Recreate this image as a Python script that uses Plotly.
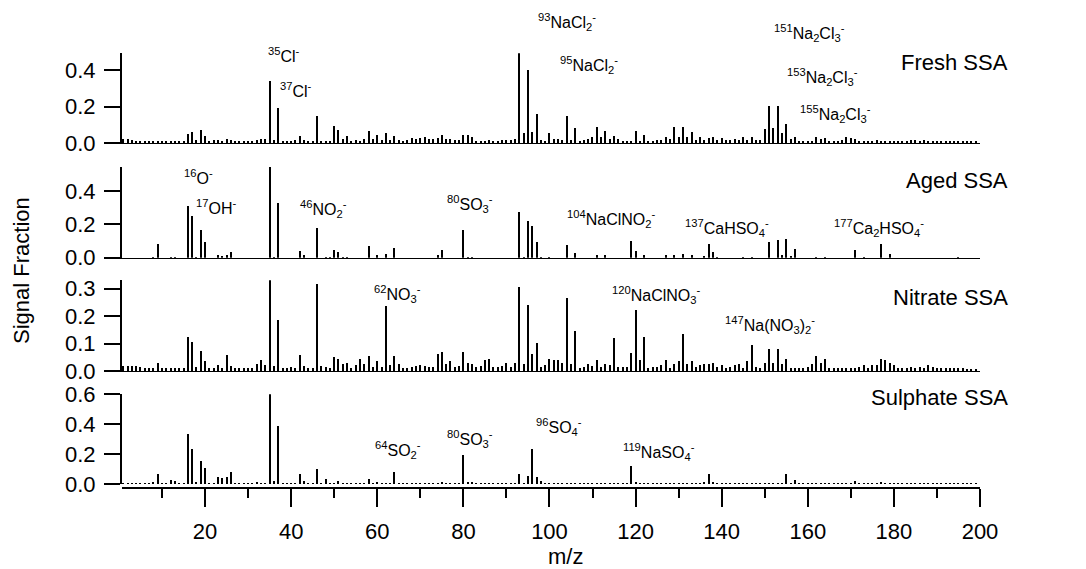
import plotly.graph_objects as go

mz = list(range(1, 200))

fresh = [
    0.020, 0.022, 0.018, 0.012, 0.012, 0.010, 0.012, 0.010, 0.012, 0.010,
    0.010, 0.012, 0.010, 0.012, 0.012, 0.051, 0.058, 0.015, 0.069, 0.036,
    0.012, 0.014, 0.016, 0.012, 0.022, 0.014, 0.010, 0.010, 0.012, 0.010,
    0.012, 0.016, 0.020, 0.022, 0.336, 0.018, 0.190, 0.012, 0.010, 0.012,
    0.014, 0.036, 0.016, 0.010, 0.010, 0.149, 0.012, 0.010, 0.012, 0.091,
    0.073, 0.020, 0.040, 0.012, 0.016, 0.012, 0.020, 0.067, 0.022, 0.045,
    0.018, 0.055, 0.016, 0.036, 0.014, 0.012, 0.014, 0.026, 0.022, 0.026,
    0.032, 0.020, 0.022, 0.026, 0.045, 0.024, 0.020, 0.016, 0.016, 0.045,
    0.044, 0.030, 0.012, 0.012, 0.012, 0.014, 0.012, 0.012, 0.014, 0.016,
    0.018, 0.022, 0.490, 0.055, 0.400, 0.058, 0.158, 0.015, 0.010, 0.055,
    0.020, 0.022, 0.016, 0.149, 0.018, 0.082, 0.012, 0.015, 0.022, 0.030,
    0.085, 0.030, 0.065, 0.020, 0.040, 0.020, 0.012, 0.012, 0.012, 0.065,
    0.012, 0.045, 0.012, 0.012, 0.014, 0.016, 0.035, 0.020, 0.085, 0.030,
    0.088, 0.030, 0.060, 0.015, 0.030, 0.015, 0.025, 0.030, 0.015, 0.025,
    0.015, 0.015, 0.020, 0.015, 0.035, 0.015, 0.035, 0.015, 0.015, 0.075,
    0.200, 0.082, 0.200, 0.055, 0.105, 0.020, 0.035, 0.012, 0.010, 0.012,
    0.012, 0.035, 0.020, 0.025, 0.012, 0.010, 0.012, 0.014, 0.030, 0.025,
    0.020, 0.012, 0.010, 0.010, 0.012, 0.014, 0.012, 0.010, 0.010, 0.010,
    0.010, 0.012, 0.010, 0.016, 0.016, 0.012, 0.016, 0.012, 0.010, 0.010,
    0.010, 0.010, 0.012, 0.010, 0.010, 0.008, 0.008, 0.008, 0.008,
]

aged = [
    0.000, 0.000, 0.000, 0.000, 0.000, 0.000, 0.000, 0.003, 0.086, 0.000,
    0.000, 0.004, 0.003, 0.000, 0.000, 0.313, 0.249, 0.005, 0.165, 0.094,
    0.000, 0.000, 0.020, 0.015, 0.016, 0.036, 0.000, 0.000, 0.000, 0.000,
    0.000, 0.000, 0.000, 0.000, 0.543, 0.005, 0.332, 0.000, 0.000, 0.000,
    0.000, 0.040, 0.016, 0.000, 0.000, 0.179, 0.000, 0.004, 0.004, 0.046,
    0.034, 0.004, 0.004, 0.000, 0.000, 0.000, 0.000, 0.070, 0.000, 0.020,
    0.000, 0.022, 0.000, 0.062, 0.000, 0.000, 0.000, 0.000, 0.000, 0.000,
    0.000, 0.000, 0.000, 0.020, 0.046, 0.000, 0.000, 0.000, 0.000, 0.165,
    0.005, 0.004, 0.000, 0.000, 0.000, 0.000, 0.000, 0.000, 0.000, 0.000,
    0.000, 0.000, 0.273, 0.005, 0.221, 0.193, 0.096, 0.003, 0.000, 0.004,
    0.000, 0.000, 0.000, 0.080, 0.000, 0.030, 0.000, 0.000, 0.000, 0.000,
    0.020, 0.000, 0.016, 0.000, 0.000, 0.000, 0.000, 0.000, 0.100, 0.040,
    0.000, 0.016, 0.000, 0.000, 0.000, 0.000, 0.018, 0.000, 0.020, 0.000,
    0.022, 0.000, 0.016, 0.000, 0.000, 0.012, 0.086, 0.036, 0.005, 0.000,
    0.000, 0.000, 0.000, 0.000, 0.005, 0.000, 0.005, 0.000, 0.000, 0.000,
    0.096, 0.000, 0.105, 0.020, 0.113, 0.012, 0.054, 0.000, 0.000, 0.000,
    0.000, 0.004, 0.000, 0.004, 0.000, 0.000, 0.000, 0.000, 0.000, 0.000,
    0.046, 0.000, 0.004, 0.000, 0.000, 0.000, 0.082, 0.000, 0.026, 0.000,
    0.000, 0.000, 0.000, 0.000, 0.000, 0.000, 0.000, 0.000, 0.000, 0.000,
    0.000, 0.000, 0.000, 0.000, 0.005, 0.000, 0.000, 0.000, 0.000,
]

nitrate = [
    0.019, 0.019, 0.019, 0.017, 0.015, 0.012, 0.010, 0.012, 0.029, 0.012,
    0.012, 0.010, 0.012, 0.010, 0.012, 0.122, 0.105, 0.013, 0.073, 0.037,
    0.010, 0.012, 0.022, 0.012, 0.058, 0.018, 0.012, 0.010, 0.010, 0.010,
    0.012, 0.027, 0.040, 0.020, 0.329, 0.018, 0.184, 0.010, 0.012, 0.015,
    0.012, 0.059, 0.018, 0.010, 0.010, 0.314, 0.017, 0.015, 0.010, 0.052,
    0.045, 0.025, 0.030, 0.012, 0.020, 0.045, 0.025, 0.055, 0.015, 0.035,
    0.015, 0.234, 0.022, 0.055, 0.025, 0.012, 0.012, 0.015, 0.018, 0.020,
    0.018, 0.015, 0.015, 0.060, 0.070, 0.025, 0.035, 0.015, 0.018, 0.070,
    0.030, 0.025, 0.015, 0.018, 0.040, 0.045, 0.015, 0.015, 0.018, 0.030,
    0.015, 0.030, 0.305, 0.025, 0.240, 0.063, 0.100, 0.015, 0.020, 0.042,
    0.040, 0.040, 0.030, 0.265, 0.025, 0.145, 0.012, 0.015, 0.025, 0.018,
    0.040, 0.015, 0.025, 0.020, 0.120, 0.015, 0.015, 0.015, 0.065, 0.223,
    0.040, 0.125, 0.012, 0.015, 0.015, 0.020, 0.040, 0.012, 0.025, 0.035,
    0.135, 0.025, 0.035, 0.015, 0.020, 0.025, 0.025, 0.030, 0.015, 0.020,
    0.012, 0.015, 0.020, 0.025, 0.012, 0.035, 0.093, 0.015, 0.012, 0.030,
    0.078, 0.030, 0.078, 0.025, 0.045, 0.012, 0.012, 0.010, 0.012, 0.015,
    0.025, 0.055, 0.030, 0.045, 0.012, 0.010, 0.010, 0.010, 0.012, 0.010,
    0.012, 0.015, 0.020, 0.010, 0.020, 0.020, 0.045, 0.040, 0.030, 0.020,
    0.012, 0.010, 0.012, 0.015, 0.010, 0.015, 0.012, 0.020, 0.015, 0.010,
    0.012, 0.010, 0.010, 0.012, 0.010, 0.010, 0.008, 0.008, 0.008,
]

sulphate = [
    0.0015, 0.0015, 0.0015, 0.0015, 0.0015, 0.0015, 0.0015, 0.012, 0.069, 0.0015,
    0.0015, 0.029, 0.018, 0.0015, 0.0015, 0.336, 0.236, 0.016, 0.153, 0.107,
    0.0015, 0.0015, 0.047, 0.042, 0.044, 0.078, 0.0015, 0.0015, 0.0015, 0.0015,
    0.0015, 0.010, 0.0015, 0.0015, 0.600, 0.022, 0.387, 0.0015, 0.0015, 0.0015,
    0.006, 0.069, 0.022, 0.0015, 0.0015, 0.100, 0.0015, 0.031, 0.0015, 0.0015,
    0.022, 0.0015, 0.0015, 0.0015, 0.0015, 0.0015, 0.0015, 0.033, 0.0015, 0.007,
    0.0015, 0.006, 0.0015, 0.082, 0.0015, 0.0015, 0.0015, 0.0015, 0.0015, 0.0015,
    0.0015, 0.0015, 0.0015, 0.0015, 0.008, 0.0015, 0.0015, 0.0015, 0.0015, 0.191,
    0.016, 0.010, 0.0015, 0.0015, 0.0015, 0.0015, 0.0015, 0.0015, 0.0015, 0.0015,
    0.0015, 0.0015, 0.067, 0.005, 0.055, 0.236, 0.045, 0.020, 0.0015, 0.0015,
    0.0015, 0.0015, 0.0015, 0.0015, 0.0015, 0.0015, 0.0015, 0.0015, 0.0015, 0.0015,
    0.0015, 0.0015, 0.0015, 0.0015, 0.0015, 0.0015, 0.0015, 0.0015, 0.122, 0.016,
    0.006, 0.0015, 0.0015, 0.0015, 0.0015, 0.0015, 0.005, 0.0015, 0.0015, 0.0015,
    0.0015, 0.0015, 0.0015, 0.0015, 0.0015, 0.015, 0.067, 0.016, 0.0015, 0.0015,
    0.0015, 0.0015, 0.0015, 0.0015, 0.0015, 0.0015, 0.0015, 0.0015, 0.0015, 0.0015,
    0.0015, 0.0015, 0.006, 0.0015, 0.067, 0.006, 0.030, 0.0015, 0.0015, 0.0015,
    0.0015, 0.0015, 0.0015, 0.0015, 0.0015, 0.0015, 0.0015, 0.0015, 0.0015, 0.0015,
    0.020, 0.0015, 0.0015, 0.0015, 0.0015, 0.0015, 0.012, 0.0015, 0.0015, 0.0015,
    0.0015, 0.0015, 0.0015, 0.0015, 0.0015, 0.0015, 0.0015, 0.0015, 0.0015, 0.0015,
    0.0015, 0.0015, 0.0015, 0.0015, 0.0015, 0.0015, 0.0015, 0.0015, 0.0015,
]

panel_names = ["Fresh SSA", "Aged SSA", "Nitrate SSA", "Sulphate SSA"]
panel_ranges = [[0, 0.49], [0, 0.545], [0, 0.33], [0, 0.6]]
panel_ticks = [[0, 0.2, 0.4], [0, 0.2, 0.4], [0, 0.1, 0.2, 0.3], [0, 0.2, 0.4, 0.6]]
x_ticks = [20, 40, 60, 80, 100, 120, 140, 160, 180, 200]

# peak labels: (panel index, text, left px, centre px)
peak_labels = [
    (0, "<sup>35</sup>Cl<sup>-</sup>", 266, 55),
    (0, "<sup>37</sup>Cl<sup>-</sup>", 278, 90),
    (0, "<sup>93</sup>NaCl<sub>2</sub><sup>-</sup>", 536, 22),
    (0, "<sup>95</sup>NaCl<sub>2</sub><sup>-</sup>", 558, 65),
    (0, "<sup>151</sup>Na<sub>2</sub>Cl<sub>3</sub><sup>-</sup>", 772, 33),
    (0, "<sup>153</sup>Na<sub>2</sub>Cl<sub>3</sub><sup>-</sup>", 785, 77),
    (0, "<sup>155</sup>Na<sub>2</sub>Cl<sub>3</sub><sup>-</sup>", 798, 114),
    (1, "<sup>16</sup>O<sup>-</sup>", 182, 177),
    (1, "<sup>17</sup>OH<sup>-</sup>", 194, 207),
    (1, "<sup>46</sup>NO<sub>2</sub><sup>-</sup>", 298, 209),
    (1, "<sup>80</sup>SO<sub>3</sub><sup>-</sup>", 445, 204),
    (1, "<sup>104</sup>NaClNO<sub>2</sub><sup>-</sup>", 565, 219),
    (1, "<sup>137</sup>CaHSO<sub>4</sub><sup>-</sup>", 683, 228),
    (1, "<sup>177</sup>Ca<sub>2</sub>HSO<sub>4</sub><sup>-</sup>", 832, 228),
    (2, "<sup>62</sup>NO<sub>3</sub><sup>-</sup>", 372, 294),
    (2, "<sup>120</sup>NaClNO<sub>3</sub><sup>-</sup>", 610, 295),
    (2, "<sup>147</sup>Na(NO<sub>3</sub>)<sub>2</sub><sup>-</sup>", 723, 325),
    (3, "<sup>64</sup>SO<sub>2</sub><sup>-</sup>", 373, 450),
    (3, "<sup>80</sup>SO<sub>3</sub><sup>-</sup>", 445, 439),
    (3, "<sup>96</sup>SO<sub>4</sub><sup>-</sup>", 534, 427),
    (3, "<sup>119</sup>NaSO<sub>4</sub><sup>-</sup>", 621, 452),
]
name_pos = [62, 180, 297, 397]

W, H = 1086, 569
ML, MR, MT, MB = 122, 106, 53, 81
PW, PH = W - ML - MR, H - MT - MB


def px2paper(x, y):
    return (x - ML) / PW, (H - MB - y) / PH


# panel pixel extents (top, bottom)
panel_px = [(53.3, 143.3), (166.7, 257.7), (280.3, 371.3), (394.3, 484.3)]

FONT = "Liberation Sans, Arial, sans-serif"
fig = go.Figure()
series = [fresh, aged, nitrate, sulphate]
for i, vals in enumerate(series):
    assert len(vals) == len(mz), (i, len(vals))
    sfx = "" if i == 0 else str(i + 1)
    fig.add_trace(go.Bar(x=mz, y=vals, width=0.26, marker=dict(color="black", line=dict(width=0)),
                         xaxis="x" + sfx, yaxis="y" + sfx, showlegend=False))

layout = dict(
    width=W, height=H, margin=dict(l=ML, r=MR, t=MT, b=MB),
    paper_bgcolor="white", plot_bgcolor="white",
    font=dict(family=FONT, size=22, color="black"),
    bargap=0, showlegend=False,
)
for i in range(4):
    sfx = "" if i == 0 else str(i + 1)
    top, bot = panel_px[i]
    d0 = (H - MB - bot) / PH
    d1 = min(1.0, (H - MB - top) / PH)
    layout["yaxis" + sfx] = dict(
        domain=[d0, d1], range=panel_ranges[i], tickvals=panel_ticks[i], tickformat=".1f",
        showline=True, linecolor="black", linewidth=2, ticks="outside", ticklen=16, tickwidth=2,
        tickcolor="black", showgrid=False, zeroline=False, anchor="x" + sfx,
        tickfont=dict(size=22, family=FONT), ticklabelstandoff=4,
    )
    if i < 3:
        layout["xaxis" + sfx] = dict(
            domain=[0, 1], range=[0.7, 200], anchor="y" + sfx, showline=True, linecolor="black",
            linewidth=1, ticks="", showticklabels=False, showgrid=False, zeroline=False,
        )
    else:
        layout["xaxis4"] = dict(
            domain=[0, 1], range=[0.7, 200], anchor="free", position=0, showline=True,
            linecolor="black", linewidth=2, ticks="outside", ticklen=18, tickwidth=2,
            tickcolor="black", tickvals=x_ticks, showgrid=False, zeroline=False,
            minor=dict(tickvals=[10, 30, 50, 70, 90, 110, 130, 150, 170, 190], ticks="outside",
                       ticklen=9, tickwidth=2, tickcolor="black", showgrid=False),
            tickfont=dict(size=22, family=FONT), ticklabelstandoff=6,
        )

annotations = []
for (pi, txt, lx, cy) in peak_labels:
    ax, ay = px2paper(lx, cy)
    annotations.append(dict(text=txt, x=ax, y=ay, xref="paper", yref="paper", xanchor="left",
                            yanchor="middle", showarrow=False, font=dict(size=16, family=FONT)))
for i, nm in enumerate(panel_names):
    ax, ay = px2paper(1010, name_pos[i])
    annotations.append(dict(text=nm, x=ax, y=ay, xref="paper", yref="paper", xanchor="right",
                            yanchor="middle", showarrow=False, font=dict(size=22, family=FONT)))
ax, ay = px2paper(21, 271)
annotations.append(dict(text="Signal Fraction", x=ax, y=ay, xref="paper", yref="paper", textangle=-90,
                        xanchor="center", yanchor="middle", showarrow=False, font=dict(size=22, family=FONT)))
ax, ay = px2paper(565, 556)
annotations.append(dict(text="m/z", x=ax, y=ay, xref="paper", yref="paper", xanchor="center",
                        yanchor="middle", showarrow=False, font=dict(size=22, family=FONT)))
layout["annotations"] = annotations
fig.update_layout(**layout)
fig.write_html("out.html", config={"displayModeBar": False},
               post_script="document.body.style.margin='0';document.body.style.padding='0';"
                           "document.body.style.overflow='hidden';")
